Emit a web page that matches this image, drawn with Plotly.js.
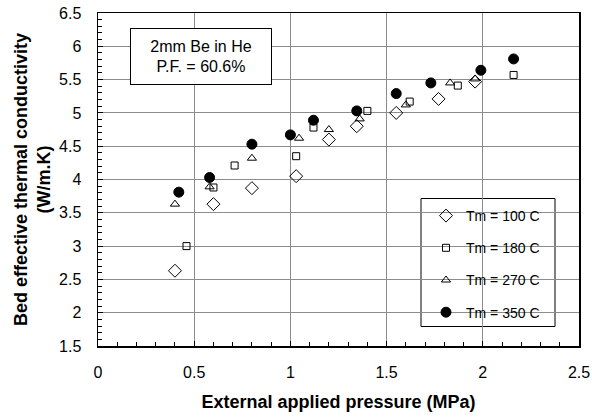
<!DOCTYPE html>
<html>
<head>
<meta charset="utf-8">
<script src="https://cdn.plot.ly/plotly-3.0.1.min.js"></script>
<style>html,body{margin:0;padding:0;background:#fff;}#chart{width:592px;height:417px;}</style>
</head>
<body>
<div id="chart"></div>
<script>
// Tm = 100 C (open diamonds)
const x100 = [0.40, 0.60, 0.80, 1.03, 1.20, 1.345, 1.55, 1.77, 1.96];
const y100 = [2.63, 3.63, 3.87, 4.05, 4.60, 4.80, 5.00, 5.21, 5.47];
// Tm = 180 C (open squares)
const x180 = [0.46, 0.60, 0.71, 1.03, 1.12, 1.40, 1.62, 1.87, 2.16];
const y180 = [3.00, 3.88, 4.21, 4.35, 4.78, 5.03, 5.17, 5.41, 5.57];
// Tm = 270 C (open triangles)
const x270 = [0.40, 0.58, 0.80, 1.045, 1.20, 1.36, 1.60, 1.83, 1.96];
const y270 = [3.63, 3.89, 4.32, 4.62, 4.75, 4.91, 5.12, 5.45, 5.51];
// Tm = 350 C (filled circles)
const x350 = [0.42, 0.58, 0.80, 1.00, 1.12, 1.345, 1.55, 1.73, 1.99, 2.16];
const y350 = [3.81, 4.03, 4.53, 4.67, 4.89, 5.03, 5.29, 5.45, 5.64, 5.81];

const seriesNames = ["Tm = 100 C", "Tm = 180 C", "Tm = 270 C", "Tm = 350 C"];
const FONT = "Liberation Sans, Arial, Helvetica, sans-serif";

function tr(x, y, name, symbol, size, fill) {
  return {
    x: x, y: y, name: name, type: "scatter", mode: "markers",
    legendgroup: name,
    marker: {symbol: symbol, size: size, color: fill, line: {color: "#000", width: 1}},
    cliponaxis: false
  };
}

const data = [
  tr(x100, y100, seriesNames[0], "diamond-open", 10, "#000"),
  tr(x180, y180, seriesNames[1], "square-open", 7, "#000"),
  tr(x270, y270, seriesNames[2], "triangle-up-open", 8, "#000"),
  tr(x350, y350, seriesNames[3], "circle", 10, "#000")
];

const axisCommon = {
  showline: true, linecolor: "#000", linewidth: 1.5, mirror: true,
  showgrid: true, gridcolor: "#8c8c8c", gridwidth: 1,
  zeroline: false,
  ticks: "inside", ticklen: 5, tickcolor: "#000", tickwidth: 1,
  tickfont: {family: FONT, size: 16, color: "#000"},
  minor: {ticks: "inside", ticklen: 4, tickcolor: "#000", dtick: 0.1, showgrid: false},
  automargin: false
};

const layout = {
  width: 592, height: 417,
  margin: {l: 98, r: 13, t: 13, b: 71},
  paper_bgcolor: "#fff", plot_bgcolor: "#fff",
  font: {family: FONT, color: "#000"},
  showlegend: true,
  xaxis: Object.assign({}, axisCommon, {
    range: [0, 2.5], dtick: 0.5, tick0: 0,
    ticklabelstandoff: 11,
    title: {text: "<b>External applied pressure (MPa)</b>", font: {family: FONT, size: 18, color: "#000"}, standoff: 15}
  }),
  yaxis: Object.assign({}, axisCommon, {
    range: [1.5, 6.5], dtick: 0.5, tick0: 1.5,
    ticklabelstandoff: 12,
    title: {text: "<b>Bed effective thermal conductivity<br>(W/m.K)</b>", font: {family: FONT, size: 18, color: "#000"}, standoff: 3}
  }),
  legend: {
    x: (426 - 98) / 481, y: (346 - 200) / 333, xanchor: "left", yanchor: "top",
    bgcolor: "rgba(0,0,0,0)", borderwidth: 0,
    font: {family: FONT, size: 14, color: "#000"},
    traceorder: "grouped", tracegroupgap: 11
  },
  shapes: [{
    type: "rect", xref: "paper", yref: "paper", layer: "between",
    x0: (421 - 98) / 481, x1: (555 - 98) / 481,
    y0: (346 - 326.5) / 333, y1: (346 - 198.5) / 333,
    fillcolor: "#fff", line: {color: "#000", width: 1}
  }],
  annotations: [{
    xref: "paper", yref: "paper",
    x: (201 - 98) / 481, y: (346 - 56.5) / 333,
    xanchor: "center", yanchor: "middle",
    text: "2mm Be in He<br>P.F. = 60.6%",
    showarrow: false, align: "center",
    font: {family: FONT, size: 16, color: "#000"},
    bgcolor: "#fff", bordercolor: "#000", borderwidth: 1, borderpad: 1,
    width: 138, height: 53
  }]
};

Plotly.newPlot("chart", data, layout, {staticPlot: true, displayModeBar: false});
</script>
</body>
</html>
